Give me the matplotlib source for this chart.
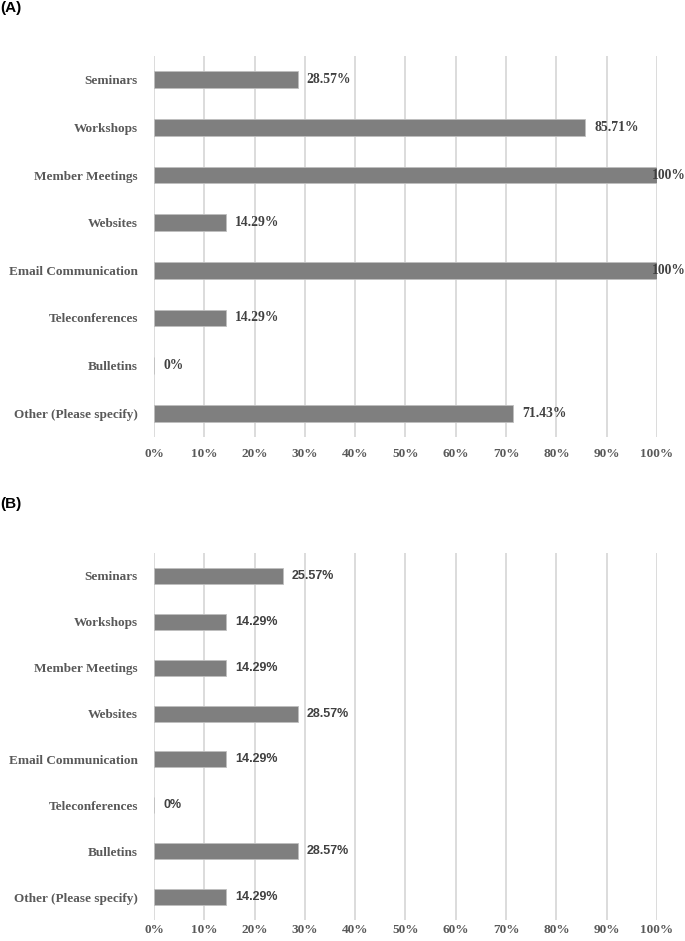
import matplotlib.pyplot as plt

# categories (top to bottom) and values for the two panels
categories = ["Seminars", "Workshops", "Member Meetings", "Websites",
              "Email Communication", "Teleconferences", "Bulletins",
              "Other (Please specify)"]
values_a = [28.57, 85.71, 100, 14.29, 100, 14.29, 0, 71.43]
labels_a = ["28.57%", "85.71%", "100%", "14.29%", "100%", "14.29%", "0%", "71.43%"]
values_b = [25.57, 14.29, 14.29, 28.57, 14.29, 0, 28.57, 14.29]
labels_b = ["25.57%", "14.29%", "14.29%", "28.57%", "14.29%", "0%", "28.57%", "14.29%"]
ticks = list(range(0, 101, 10))
tick_labels = [f"{t}%" for t in ticks]

serif = "Liberation Serif"
sans = "Liberation Sans"

fig = plt.figure(figsize=(6.85, 9.41), dpi=100)


def panel(rect, values, labels, value_font, value_size, tick_pad):
    ax = fig.add_axes(rect)
    y = list(range(len(categories)))
    ax.barh(y, values, height=0.35, color="#7f7f7f", edgecolor="#bfbfbf",
            linewidth=0.6, zorder=3)
    for yi, v, lab in zip(y, values, labels):
        x = v - 1 if v >= 100 else v + 1.8
        ax.text(x, yi, lab, va="center", ha="left", fontsize=value_size,
                fontweight="bold", family=value_font, color="#404040",
                zorder=4, clip_on=False)
    ax.set_xlim(0, 100)
    ax.set_ylim(len(categories) - 0.5, -0.5)
    ax.set_yticks(y)
    ax.set_yticklabels(categories, family=serif, fontweight="bold",
                       fontsize=9.5, color="#595959")
    ax.set_xticks(ticks)
    ax.set_xticklabels(tick_labels, family=serif, fontweight="bold",
                       fontsize=9.5, color="#595959")
    ax.tick_params(axis="y", length=0, pad=11.5)
    ax.tick_params(axis="x", length=0, pad=tick_pad)
    ax.grid(axis="x", color="#d9d9d9", linewidth=1.3, zorder=0)
    for s in ax.spines.values():
        s.set_visible(False)
    return ax


panel([0.2248, 0.5356, 0.7343, 0.4049], values_a, labels_a, serif, 9.8, 8)
panel([0.2248, 0.0223, 0.7343, 0.3900], values_b, labels_b, sans, 9, 3)

fig.text(0.0, 0.999, "(A)", family=sans, fontweight="bold", fontsize=11,
         va="top", ha="left", color="black")
fig.text(0.0, 0.472, "(B)", family=sans, fontweight="bold", fontsize=11,
         va="top", ha="left", color="black")

fig.savefig("out.png", dpi=100)
